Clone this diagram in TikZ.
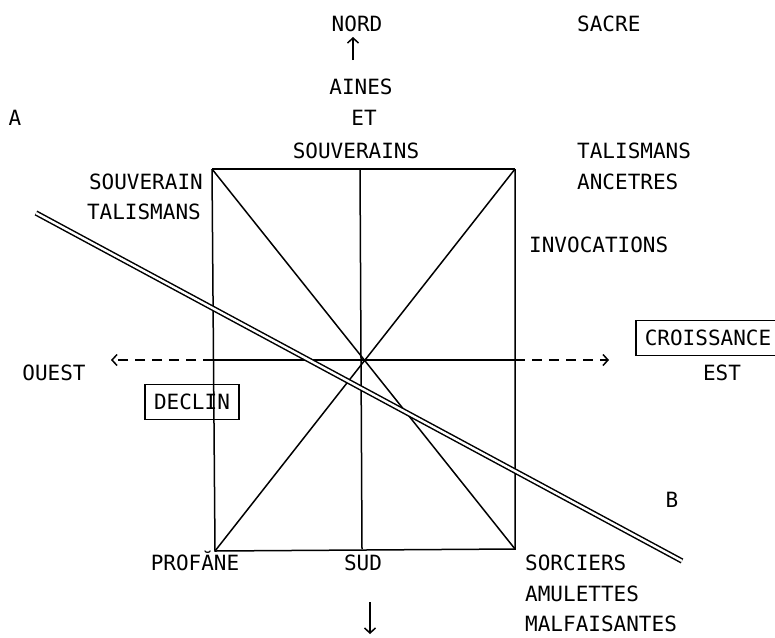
\documentclass[tikz,border=0pt]{standalone}
\usepackage{fontspec}
\setmonofont{DejaVu Sans Mono}
\usetikzlibrary{arrows.meta}

\newcommand{\labfont}{\ttfamily\fontsize{21}{24}\selectfont}

\tikzset{
  lbl/.style={inner sep=0pt, font=\labfont, text height=15pt, text depth=0pt},
  boxlbl/.style={lbl, draw, line width=1.6pt, inner xsep=9pt, inner ysep=10pt},
  frame/.style={line width=1.5pt},
  dashedarrow/.style={line width=1.5pt, dash pattern=on 10pt off 7pt,
                      -{Straight Barb[length=5pt,width=11pt]}},
  plainarrow/.style={line width=1.5pt, -{Straight Barb[length=5pt,width=11pt]}},
  axisline/.style={double, double distance=2.4pt, line width=1.5pt}
}

\begin{document}
\begin{tikzpicture}[x=1pt, y=-1pt]
\useasboundingbox (0,0) rectangle (775,637);

  % corners of the square
  \coordinate (tl) at (212,169);
  \coordinate (tr) at (515,169);
  \coordinate (bl) at (215,551);
  \coordinate (br) at (515,549);
  \coordinate (tm) at (360,169);
  \coordinate (bm) at (362,549);
  \coordinate (lm) at (213,360);
  \coordinate (rm) at (515,360);

  % north side
  \node[lbl] (nord)       at (357,24)  {NORD};
  \node[lbl] (aines)      at (361,87)  {AINES};
  \node[lbl] (et)         at (364,118) {ET};
  \node[lbl] (souverains) at (356,151) {SOUVERAINS};
  \coordinate (nfoot) at (353,60);
  \coordinate (ntip)  at (353,37);
  \draw[plainarrow] (nfoot) -- (ntip);

  \node[lbl, anchor=west] (sacre)   at (577,24)  {SACRE};
  \node[lbl, anchor=west] (talisne) at (577,151) {TALISMANS};
  \node[lbl, anchor=west] (ancetres) at (577,182) {ANCETRES};
  \node[lbl, anchor=west] (invoc)   at (529,245) {INVOCATIONS};

  \node[lbl, anchor=east] (souverain) at (203,182) {SOUVERAIN};
  \node[lbl, anchor=east] (talisno)   at (201,212) {TALISMANS};
  \node[lbl] (ptA) at (15,118) {A};
  \node[lbl] (ptB) at (672,500) {B};

  % the square with its diagonals
  \draw[frame] (tl) -- (bl) -- (br) -- (tr);
  \draw[line width=2.6pt] (tl) -- (tr);
  \draw[frame] (tm) -- (bm);
  \draw[frame] (tl) -- (br);
  \draw[frame] (tr) -- (bl);
  \draw[frame] (lm) -- (rm);

  % west - east
  \coordinate (wtip) at (111,360);
  \coordinate (etip) at (609,360);
  \draw[dashedarrow] (lm) -- (wtip);
  \draw[dashedarrow] (rm) -- (etip);
  \node[lbl] (ouest) at (54,373) {OUEST};
  \node[lbl] (est)   at (722,373) {EST};
  \node[boxlbl, minimum width=131pt] (croiss) at (708,338) {CROISSANCE};
  \node[boxlbl] (declin) at (192,402) {DECLIN};

  % the line A-B
  \coordinate (astart) at (36,213);
  \coordinate (bend)   at (682,561);
  \draw[axisline] (astart) -- (bend);

  % south side
  \node[lbl] (profane) at (195,563) {PROFĂNE};
  \node[lbl] (sud)     at (363,563) {SUD};
  \node[lbl, anchor=west] (sorciers) at (525,563) {SORCIERS};
  \node[lbl, anchor=west] (amul)     at (525,594) {AMULETTES};
  \node[lbl, anchor=west] (malf)     at (525,624) {MALFAISANTES};
  \coordinate (sfoot) at (370,602);
  \coordinate (stip)  at (370,634);
  \draw[plainarrow] (sfoot) -- (stip);

\end{tikzpicture}
\end{document}
